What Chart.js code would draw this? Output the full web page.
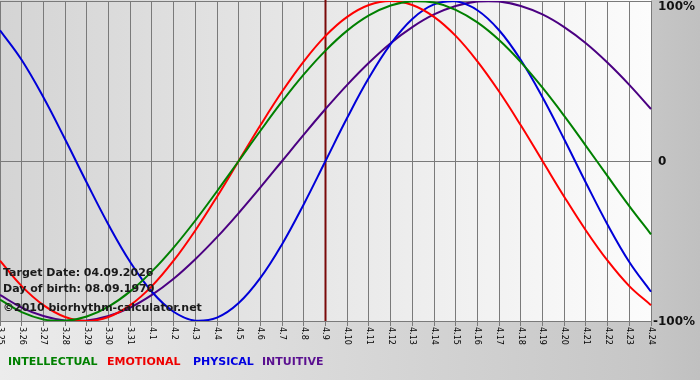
<!DOCTYPE html>
<html>
<head>
<meta charset="utf-8">
<script src="https://cdn.jsdelivr.net/npm/chart.js@4/dist/chart.umd.min.js"></script>
<style>
  html, body { margin: 0; padding: 0; background: #c8c8c8; }
  #wrap { width: 700px; height: 380px; position: relative; }
</style>
</head>
<body>
<div id="wrap"><canvas id="c" width="700" height="380"></canvas></div>
<script>
// ---- data ----
const dayLabels = ['3.25','3.26','3.27','3.28','3.29','3.30','3.31','4.1','4.2','4.3','4.4','4.5','4.6','4.7','4.8','4.9','4.10','4.11','4.12','4.13','4.14','4.15','4.16','4.17','4.18','4.19','4.20','4.21','4.22','4.23','4.24'];
const intellectual = [-86.6,-94.5,-99.0,-99.9,-97.2,-91.0,-81.5,-69.0,-54.1,-37.2,-18.9,0,18.9,37.2,54.1,69.0,81.5,91.0,97.2,99.9,99.0,94.5,86.6,75.6,61.8,45.8,28.2,9.5,-9.5,-28.2,-45.8];
const emotional = [-62.3,-78.2,-90.1,-97.5,-100,-97.5,-90.1,-78.2,-62.3,-43.4,-22.3,0,22.3,43.4,62.3,78.2,90.1,97.5,100,97.5,90.1,78.2,62.3,43.4,22.3,0,-22.3,-43.4,-62.3,-78.2,-90.1];
const physical = [81.7,63.1,39.8,13.6,-13.6,-39.8,-63.1,-81.7,-94.2,-99.8,-97.9,-88.8,-73.1,-52.0,-27.0,0,27.0,52.0,73.1,88.8,97.9,99.8,94.2,81.7,63.1,39.8,13.6,-13.6,-39.8,-63.1,-81.7];
const intuitive = [-83.7,-91.6,-96.9,-99.7,-99.7,-96.9,-91.6,-83.7,-73.6,-61.4,-47.6,-32.5,-16.5,0,16.5,32.5,47.6,61.4,73.6,83.7,91.6,96.9,99.7,99.7,96.9,91.6,83.7,73.6,61.4,47.6,32.5];
const yTicks = [100, 0, -100];
const yTickLabels = ['100%', '0', '-100%'];
const targetLabel = '4.9';
const infoLines = ['Target Date: 04.09.2026', 'Day of birth: 08.09.1970', '\u00A92010 biorhythm-calculator.net'];
const legendNames = ['INTELLECTUAL', 'EMOTIONAL', 'PHYSICAL', 'INTUITIVE'];

const colGreen = '#008000', colRed = '#ff0000', colBlue = '#0000d8', colPurple = '#4b0082';
const legendColors = [colGreen, '#ee0000', '#0000e0', '#5a1090'];

const decor = {
  id: 'decor',
  beforeDraw(chart) {
    const ctx = chart.ctx, a = chart.chartArea;
    ctx.save();
    const bg = ctx.createLinearGradient(0, 0, 700, 0);
    bg.addColorStop(0, '#ececec');
    bg.addColorStop(0.93, '#c6c6c6');
    bg.addColorStop(1, '#c0c0c0');
    ctx.fillStyle = bg;
    ctx.fillRect(0, 0, 700, 380);
    const pg = ctx.createLinearGradient(a.left, 0, a.right, 0);
    pg.addColorStop(0, '#d4d4d4');
    pg.addColorStop(1, '#fcfcfc');
    ctx.fillStyle = pg;
    ctx.fillRect(a.left, 0, a.right - a.left, a.bottom);
    ctx.restore();
  },
  beforeDatasetsDraw(chart) {
    const ctx = chart.ctx, a = chart.chartArea;
    const xs = chart.scales.x;
    const idx = dayLabels.indexOf(targetLabel);
    const x = xs.getPixelForTick(idx);
    ctx.save();
    ctx.strokeStyle = '#7a0a0a';
    ctx.lineWidth = 2;
    ctx.beginPath();
    ctx.moveTo(x, 0);
    ctx.lineTo(x, a.bottom);
    ctx.stroke();
    ctx.restore();
  },
  afterDraw(chart) {
    const ctx = chart.ctx, a = chart.chartArea;
    const xs = chart.scales.x, ys = chart.scales.y;
    ctx.save();
    // x tick labels, rotated clockwise
    ctx.fillStyle = '#000';
    ctx.font = '8px "DejaVu Sans"';
    ctx.textAlign = 'left';
    ctx.textBaseline = 'middle';
    dayLabels.forEach((lab, i) => {
      const x = xs.getPixelForTick(i);
      ctx.save();
      ctx.translate(x, a.bottom + 6);
      ctx.rotate(Math.PI / 2);
      ctx.fillText(lab, 0, 0);
      ctx.restore();
    });
    // y tick labels
    ctx.fillStyle = '#111';
    ctx.font = 'bold 12px "DejaVu Sans"';
    ctx.textBaseline = 'middle';
    yTicks.forEach((v, i) => {
      let y = ys.getPixelForValue(v);
      y = Math.max(y + 1, 7);
      const lab = yTickLabels[i];
      const x = lab.startsWith('-') ? a.right + 2 : a.right + 7;
      ctx.fillText(lab, x, y);
    });
    // info text
    ctx.fillStyle = '#1a1a1a';
    ctx.font = 'bold 11px "DejaVu Sans"';
    ctx.textBaseline = 'alphabetic';
    ctx.fillText(infoLines[0], 3, 276);
    ctx.fillText(infoLines[1], 3, 292);
    ctx.fillText(infoLines[2], 3, 311);
    // legend
    ctx.textBaseline = 'middle';
    const lx = [8, 107, 193, 262];
    legendNames.forEach((n, i) => {
      ctx.fillStyle = legendColors[i];
      ctx.fillText(n, lx[i], 362);
    });
    ctx.restore();
  }
};

const ds = (label, data, color) => ({
  label, data, borderColor: color, backgroundColor: color,
  borderWidth: 2, pointRadius: 0, tension: 0.4, fill: false
});

new Chart(document.getElementById('c'), {
  type: 'line',
  data: {
    labels: dayLabels,
    datasets: [
      ds('INTELLECTUAL', intellectual, colGreen),
      ds('EMOTIONAL', emotional, colRed),
      ds('PHYSICAL', physical, colBlue),
      ds('INTUITIVE', intuitive, colPurple)
    ]
  },
  options: {
    responsive: false,
    animation: false,
    devicePixelRatio: 1,
    layout: { padding: { top: 1, left: 0, right: 0, bottom: 0 } },
    plugins: { legend: { display: false }, tooltip: { enabled: false } },
    scales: {
      x: {
        offset: false,
        grid: { color: '#7a7a7a', lineWidth: 1, tickLength: 5, drawTicks: true },
        border: { color: '#7a7a7a' },
        ticks: { display: false, autoSkip: false },
        afterFit(s) { s.height = 59; }
      },
      y: {
        position: 'right',
        min: -100, max: 100,
        grid: { color: '#7a7a7a', lineWidth: 1, drawTicks: false },
        border: { color: '#7a7a7a' },
        ticks: { display: false, stepSize: 100 },
        afterFit(s) { s.width = 49; }
      }
    }
  },
  plugins: [decor]
});
</script>
</body>
</html>
